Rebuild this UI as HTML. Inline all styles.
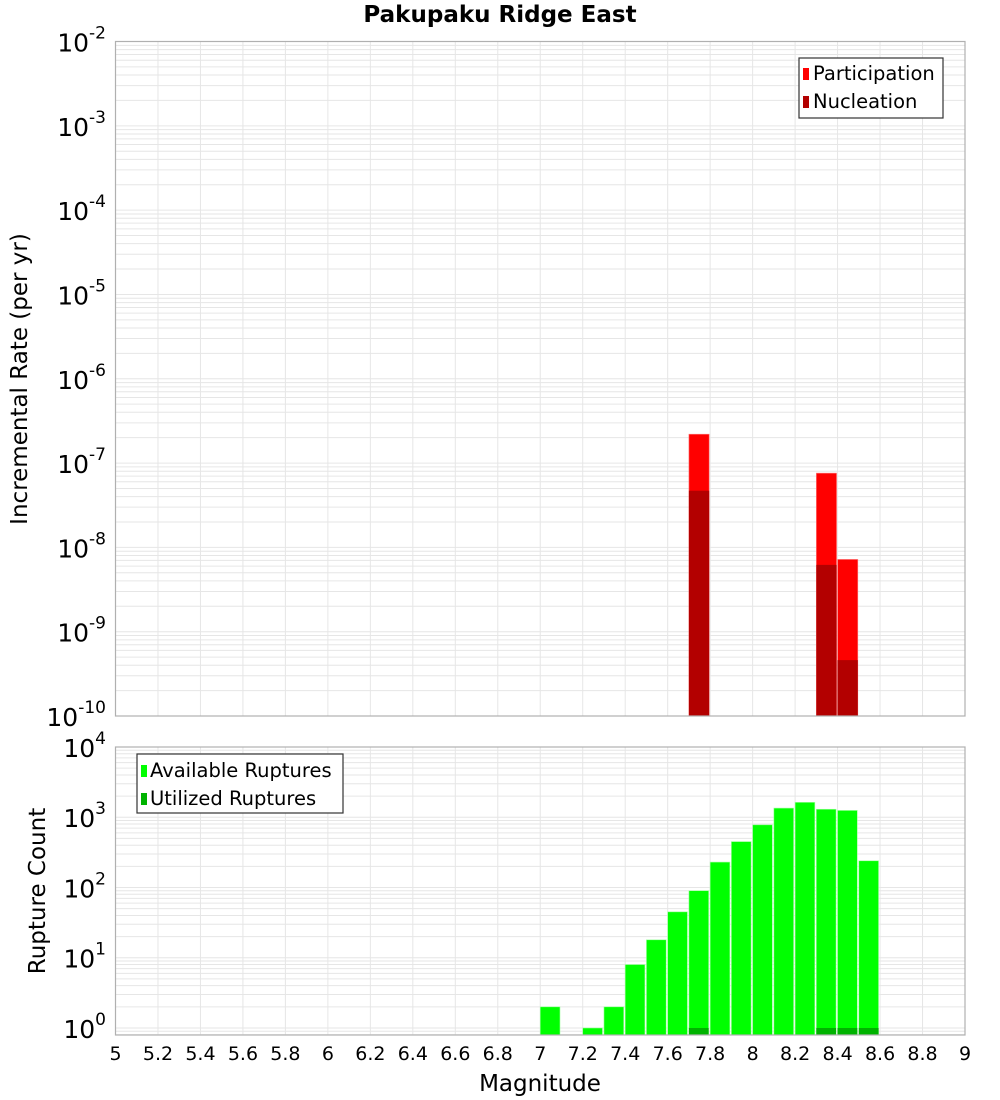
<!DOCTYPE html>
<html><head><meta charset="utf-8"><style>
body{margin:0;background:#fff;width:1000px;height:1100px;overflow:hidden}
svg{display:block;font-family:"DejaVu Sans","Liberation Sans",sans-serif}
</style></head><body>
<svg id="chart" width="1000" height="1100" xmlns="http://www.w3.org/2000/svg"></svg>
<script>
const mags = [7.0,7.1,7.2,7.3,7.4,7.5,7.6,7.7,7.8,7.9,8.0,8.1,8.2,8.3,8.4,8.5];
const available = [2,0,1,2,8,18,45,90,230,450,780,1350,1630,1300,1250,240];
const utilized = [0,0,0,0,0,0,0,1,0,0,0,0,0,1,1,1];
const rateMags = [7.7,8.3,8.4];
const participation = [2.2e-7,7.6e-8,7.2e-9];
const nucleation = [4.7e-8,6.2e-9,4.6e-10];
const xTicks = [5,5.2,5.4,5.6,5.8,6,6.2,6.4,6.6,6.8,7,7.2,7.4,7.6,7.8,8,8.2,8.4,8.6,8.8,9];
const topExps = [-2,-3,-4,-5,-6,-7,-8,-9,-10];
const botExps = [0,1,2,3,4];

const NS="http://www.w3.org/2000/svg";
const svg=document.getElementById('chart');
function el(tag,attrs,parent){const e=document.createElementNS(NS,tag);for(const k in attrs)e.setAttribute(k,attrs[k]);(parent||svg).appendChild(e);return e;}
const X0=115.5,X1=965;
const xs=m=>X0+(m-5)*(X1-X0)/4;
const T={top:41.5,bot:716,lmin:-10,lmax:-2};
const B={top:747,bot:1035,lmin:-0.1,lmax:4.0};
const ty=v=>T.bot-(Math.log10(v)-T.lmin)*(T.bot-T.top)/(T.lmax-T.lmin);
const by=v=>B.bot-(Math.log10(v)-B.lmin)*(B.bot-B.top)/(B.lmax-B.lmin);

function grid(P,yf,g){
  for(let e=Math.floor(P.lmin);e<P.lmax;e++)for(let k=1;k<10;k++){const v=k*Math.pow(10,e);const lv=Math.log10(v);if(lv<P.lmin||lv>P.lmax)continue;
    const l=el('line',{x1:X0,x2:X1,y1:yf(v),y2:yf(v),stroke:'#e6e6e6','stroke-width':1},g);
    
    }
  xTicks.forEach(t=>{const l=el('line',{x1:xs(t),x2:xs(t),y1:P.top,y2:P.bot,stroke:'#e6e6e6','stroke-width':1},g);
    
    });
}
function frame(P,name){const r=el('rect',{x:X0,y:P.top,width:X1-X0,height:P.bot-P.top,fill:'none',stroke:'#b0b0b0','stroke-width':1.2});
  
  }
function ylabel(g,x,y,exp){const t=el('text',{x:x,y:y,'font-size':25,fill:'#000','text-anchor':'end'},g);
  
  
  const s1=document.createElementNS(NS,'tspan');s1.textContent='10';t.appendChild(s1);
  const s2=document.createElementNS(NS,'tspan');s2.setAttribute('dy','-13');s2.setAttribute('font-size','17');s2.textContent=String(exp);t.appendChild(s2);}

const title=el('text',{x:500,y:22,'font-size':23,'font-weight':'bold','text-anchor':'middle'});
title.textContent='Pakupaku Ridge East';



const gt=el('g',{});


grid(T,ty,gt);
rateMags.forEach((m,i)=>{
  const r=el('rect',{x:xs(m),y:ty(participation[i]),width:xs(m+0.1)-xs(m)-1,height:T.bot-ty(participation[i]),fill:'#ff0000',stroke:'#ff8080','stroke-width':0.6},gt);
  
  
  const n=el('rect',{x:xs(m),y:ty(nucleation[i]),width:xs(m+0.1)-xs(m)-1,height:T.bot-ty(nucleation[i]),fill:'#b30000'},gt);
  
  
});
frame(T,'rate-plot-frame');
topExps.forEach(e=>ylabel(gt,106,ty(Math.pow(10,e))+10,e));
const yt=el('text',{transform:'translate(27,379) rotate(-90)','font-size':23,'text-anchor':'middle'});
yt.textContent='Incremental Rate (per yr)';


const lg=el('g',{});


el('rect',{x:799,y:58,width:144,height:60,fill:'#fff',stroke:'#333','stroke-width':1.2},lg);
[['Participation','#ff0000',80],['Nucleation','#b30000',108]].forEach(([t,c,y])=>{
  const s=el('rect',{x:803,y:y-12,width:6,height:12,fill:c},lg);
  
  
  const tx=el('text',{x:813,y:y,'font-size':19.5},lg);tx.textContent=t;
  
  
});

const gb=el('g',{});


grid(B,by,gb);
mags.forEach((m,i)=>{
  if(available[i]>0){
    const r=el('rect',{x:xs(m),y:by(available[i]),width:xs(m+0.1)-xs(m)-1.5,height:B.bot-by(available[i]),fill:'#00ff00',stroke:'#a0ffa0','stroke-width':0.6},gb);
    
    }
  if(utilized[i]>0){
    const u=el('rect',{x:xs(m),y:by(utilized[i]),width:xs(m+0.1)-xs(m)-1.5,height:B.bot-by(utilized[i]),fill:'#00b300'},gb);
    
    }
});
frame(B,'count-plot-frame');
botExps.forEach(e=>ylabel(gb,106,by(Math.pow(10,e))+10,e));
const yb=el('text',{transform:'translate(45,891) rotate(-90)','font-size':23,'text-anchor':'middle'});
yb.textContent='Rupture Count';


const lb=el('g',{});


el('rect',{x:137,y:754,width:206,height:59,fill:'#fff',stroke:'#333','stroke-width':1.2},lb);
[['Available Ruptures','#00ff00',777],['Utilized Ruptures','#00b300',805]].forEach(([t,c,y])=>{
  const s=el('rect',{x:141,y:y-12,width:6,height:12,fill:c},lb);
  
  
  const tx=el('text',{x:150,y:y,'font-size':19.5},lb);tx.textContent=t;
  
  
});
xTicks.forEach(t=>{
  const tx=el('text',{x:xs(t),y:1060,'font-size':19,'text-anchor':'middle'});
  tx.textContent=String(t);
  
  
});
const xt=el('text',{x:540,y:1091,'font-size':23,'text-anchor':'middle'});
xt.textContent='Magnitude';


</script>
</body></html>
